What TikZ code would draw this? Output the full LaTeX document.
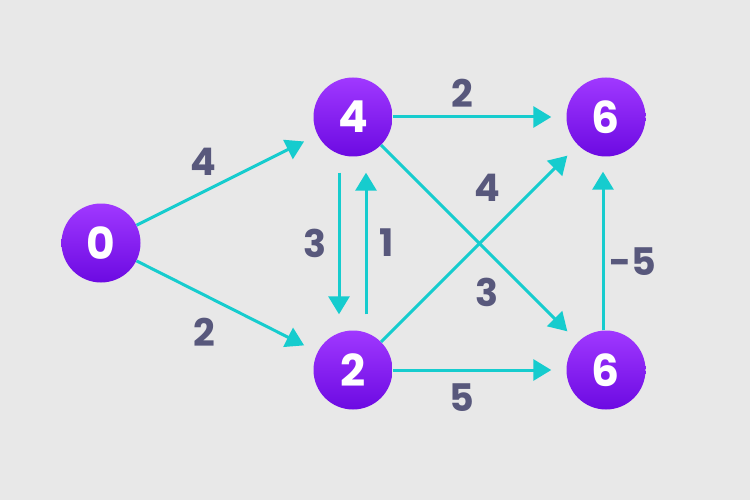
\documentclass[tikz,border=0pt]{standalone}
\usepackage{fontspec}
\setmainfont{Poppins}
\usetikzlibrary{arrows.meta}

\definecolor{bgcol}{RGB}{232,232,232}
\definecolor{vtop}{RGB}{160,56,255}
\definecolor{vbot}{RGB}{108,10,226}
\definecolor{edgecol}{RGB}{22,204,206}
\definecolor{wcol}{RGB}{88,88,124}

\begin{document}
\begin{tikzpicture}[x=1pt,y=-1pt,
  vertex/.style={circle, minimum size=79pt, inner sep=0pt, top color=vtop, bottom color=vbot,
    text=white, font=\fontsize{44}{44}\selectfont\bfseries},
  edge/.style={draw=edgecol, line width=3pt, -{Triangle[length=18pt,width=21pt]}, shorten >=15pt},
  weight/.style={text=wcol, font=\fontsize{38}{38}\selectfont\bfseries}]
\fill[bgcol] (0,0) rectangle (750,500);
\useasboundingbox (0,0) rectangle (750,500);

% vertices
\node[vertex] (n0) at (101,243) {0};
\node[vertex] (n4) at (353,117) {4};
\node[vertex] (n2) at (353,370) {2};
\node[vertex] (n6t) at (606,117) {6};
\node[vertex] (n6b) at (606,370) {6};

% edges
\draw[edge] (n0) -- (n4);
\draw[edge] (n0) -- (n2);
\draw[edge] (n4) -- (n6t);
\draw[edge] (n2) -- (n6b);
\draw[edge] (n4) -- (n6b);
\draw[edge] (n2) -- (n6t);
\draw[edge, shorten <=16pt, shorten >=16pt] ([xshift=-14pt]n4.south) -- ([xshift=-14pt]n2.north);
\draw[edge, shorten <=16pt, shorten >=16pt] ([xshift=13pt]n2.north) -- ([xshift=13pt]n4.south);
\draw[edge] ([xshift=-3pt]n6b.north) -- ([xshift=-3pt]n6t.south);

% weights
\node[weight] (w04) at (203,162) {4};
\node[weight] (w02) at (204,332) {2};
\node[weight] (w46t) at (462,93) {2};
\node[weight] (w26b) at (462,398) {5};
\node[weight] (w42) at (315,243) {3};
\node[weight] (w24) at (387,243) {1};
\node[weight] (w26t) at (487,188) {4};
\node[weight] (w46b) at (487,292) {3};
\node[weight] (w66) at (633,262) {-5};
\end{tikzpicture}
\end{document}
